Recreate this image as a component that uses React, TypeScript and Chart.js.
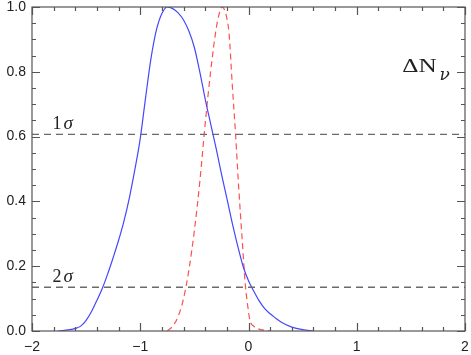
import React, { useEffect, useRef } from "react";
import { Chart, registerables } from "chart.js";

Chart.register(...registerables);

// Blue solid curve (x, y)
const blueX = [-1.76, -1.7, -1.65, -1.6, -1.55, -1.5, -1.45, -1.4, -1.35, -1.3, -1.25, -1.2, -1.15, -1.1, -1.05, -1.0, -0.95, -0.9, -0.85, -0.8, -0.75, -0.7, -0.65, -0.6, -0.55, -0.5, -0.45, -0.4, -0.35, -0.3, -0.25, -0.2, -0.15, -0.1, -0.05, 0.0, 0.05, 0.1, 0.15, 0.2, 0.25, 0.3, 0.4, 0.5, 0.6];
const blueY = [0.0, 0.002, 0.004, 0.008, 0.015, 0.033, 0.06, 0.095, 0.132, 0.177, 0.227, 0.28, 0.34, 0.412, 0.498, 0.594, 0.722, 0.843, 0.93, 0.98, 1.0, 0.995, 0.982, 0.96, 0.925, 0.875, 0.8, 0.716, 0.64, 0.565, 0.485, 0.41, 0.333, 0.263, 0.2, 0.155, 0.122, 0.092, 0.069, 0.053, 0.04, 0.028, 0.012, 0.004, 0.0];

// Red dashed curve (x, y)
const redX = [-0.75, -0.7, -0.65, -0.6, -0.55, -0.5, -0.45, -0.4, -0.35, -0.3, -0.27, -0.244, -0.22, -0.2, -0.18, -0.15, -0.12, -0.09, -0.06, -0.03, 0.0, 0.012, 0.05, 0.08, 0.15, 0.2];
const redY = [0.0, 0.015, 0.045, 0.1, 0.19, 0.31, 0.46, 0.64, 0.8, 0.93, 0.98, 1.0, 0.99, 0.965, 0.92, 0.76, 0.61, 0.44, 0.29, 0.145, 0.06, 0.034, 0.014, 0.008, 0.002, 0.0];

// Confidence levels
const sigmaLevels = [0.607, 0.135];
const sigmaLabels = ["1", "2"];

// Axes
const xRange = [-2, 2];
const yRange = [0, 1];
const xMajorTicks = [-2, -1, 0, 1, 2];
const xMinorTicks = [-1.8, -1.6, -1.4, -1.2, -0.8, -0.6, -0.4, -0.2, 0.2, 0.4, 0.6, 0.8, 1.2, 1.4, 1.6, 1.8];
const yMajorTicks = [0, 0.2, 0.4, 0.6, 0.8, 1.0];
const yMinorTicks = [0.05, 0.1, 0.15, 0.25, 0.3, 0.35, 0.45, 0.5, 0.55, 0.65, 0.7, 0.75, 0.85, 0.9, 0.95];

const FRAME = "#555555";

const framePlugin = {
  id: "frameTicks",
  afterDraw(chart: any) {
    const { ctx, chartArea: a, scales } = chart;
    const xs = scales.x;
    const ys = scales.y;
    ctx.save();
    ctx.strokeStyle = FRAME;
    ctx.lineWidth = 1.2;
    ctx.setLineDash([]);
    ctx.strokeRect(a.left, a.top, a.right - a.left, a.bottom - a.top);
    ctx.beginPath();
    const xt = (v: number, len: number) => {
      const p = Math.round(xs.getPixelForValue(v)) + 0.5;
      ctx.moveTo(p, a.bottom);
      ctx.lineTo(p, a.bottom - len);
      ctx.moveTo(p, a.top);
      ctx.lineTo(p, a.top + len);
    };
    const yt = (v: number, len: number) => {
      const p = Math.round(ys.getPixelForValue(v)) + 0.5;
      ctx.moveTo(a.left, p);
      ctx.lineTo(a.left + len, p);
      ctx.moveTo(a.right, p);
      ctx.lineTo(a.right - len, p);
    };
    xMajorTicks.forEach((v) => xt(v, 8));
    xMinorTicks.forEach((v) => xt(v, 4));
    yMajorTicks.forEach((v) => yt(v, 8));
    yMinorTicks.forEach((v) => yt(v, 4));
    ctx.stroke();

    // sigma labels
    ctx.fillStyle = "#222";
    ctx.textBaseline = "alphabetic";
    ctx.textAlign = "left";
    sigmaLevels.forEach((lvl, i) => {
      const x0 = xs.getPixelForValue(-1.81);
      const y0 = ys.getPixelForValue(lvl) - 5;
      ctx.font = "18px 'Liberation Serif', serif";
      ctx.fillText(sigmaLabels[i], x0, y0);
      const w = ctx.measureText(sigmaLabels[i]).width;
      ctx.font = "italic 19px 'Liberation Serif', serif";
      ctx.fillText("\u03C3", x0 + w + 2, y0);
    });

    // Delta N_nu label
    const lx = xs.getPixelForValue(1.42);
    const ly = ys.getPixelForValue(0.8);
    ctx.save();
    ctx.translate(lx, ly);
    ctx.scale(1.4, 1);
    ctx.font = "18px 'Liberation Serif', serif";
    ctx.fillText("\u0394N", 0, 0);
    const dw = ctx.measureText("\u0394N").width * 1.4;
    ctx.restore();
    ctx.font = "italic 17px 'DejaVu Serif', serif";
    ctx.fillText("\u03BD", lx + dw + 3, ly + 8);
    ctx.restore();
  },
};

export default function App() {
  const ref = useRef<HTMLCanvasElement | null>(null);
  useEffect(() => {
    document.body.style.margin = "0";
    const canvas = ref.current;
    if (!canvas) return;
    const toPts = (xs: number[], ys: number[]) => xs.map((x, i) => ({ x, y: ys[i] }));
    const sigmaSets = sigmaLevels.map((lvl) => ({
      data: [
        { x: xRange[0], y: lvl },
        { x: xRange[1], y: lvl },
      ],
      borderColor: "#6a6a6a",
      borderWidth: 1.4,
      borderDash: [7, 5],
      pointRadius: 0,
      tension: 0,
    }));
    const chart = new Chart(canvas, {
      type: "line",
      data: {
        datasets: [
          ...sigmaSets,
          {
            data: toPts(blueX, blueY),
            borderColor: "rgb(70,70,255)",
            borderWidth: 1.2,
            pointRadius: 0,
            cubicInterpolationMode: "monotone",
          },
          {
            data: toPts(redX, redY),
            borderColor: "rgb(255,80,80)",
            borderWidth: 1.2,
            borderDash: [6, 4],
            pointRadius: 0,
            cubicInterpolationMode: "monotone",
          },
        ] as any,
      },
      options: {
        animation: false,
        responsive: false,
        devicePixelRatio: 1,
        layout: { padding: { top: 7, right: 6, left: 0, bottom: 0 } },
        plugins: { legend: { display: false }, tooltip: { enabled: false } },
        scales: {
          x: {
            type: "linear",
            min: xRange[0],
            max: xRange[1],
            afterFit: (s: any) => {
              s.height = 24;
              s.paddingLeft = 0;
              s.paddingRight = 0;
            },
            afterBuildTicks: (s: any) => {
              s.ticks = xMajorTicks.map((v) => ({ value: v }));
            },
            grid: { display: false, drawTicks: false },
            border: { display: false },
            ticks: {
              padding: 8,
              color: "#222",
              font: { family: "'Liberation Sans', Arial, sans-serif", size: 14 },
              callback: (v: any) => (v < 0 ? "\u2212" + Math.abs(v) : String(v)),
              maxRotation: 0,
            },
          },
          y: {
            type: "linear",
            min: yRange[0],
            max: yRange[1],
            afterFit: (s: any) => {
              s.width = 32;
              s.paddingTop = 0;
              s.paddingBottom = 0;
            },
            afterBuildTicks: (s: any) => {
              s.ticks = yMajorTicks.map((v) => ({ value: v }));
            },
            grid: { display: false, drawTicks: false },
            border: { display: false },
            ticks: {
              padding: 6,
              color: "#222",
              font: { family: "'Liberation Sans', Arial, sans-serif", size: 14 },
              callback: (v: any) => Number(v).toFixed(1),
            },
          },
        },
      },
      plugins: [framePlugin],
    } as any);
    return () => chart.destroy();
  }, []);
  return (
    <div style={{ width: 471, height: 355 }}>
      <canvas ref={ref} width={471} height={355} style={{ display: "block" }} />
    </div>
  );
}
